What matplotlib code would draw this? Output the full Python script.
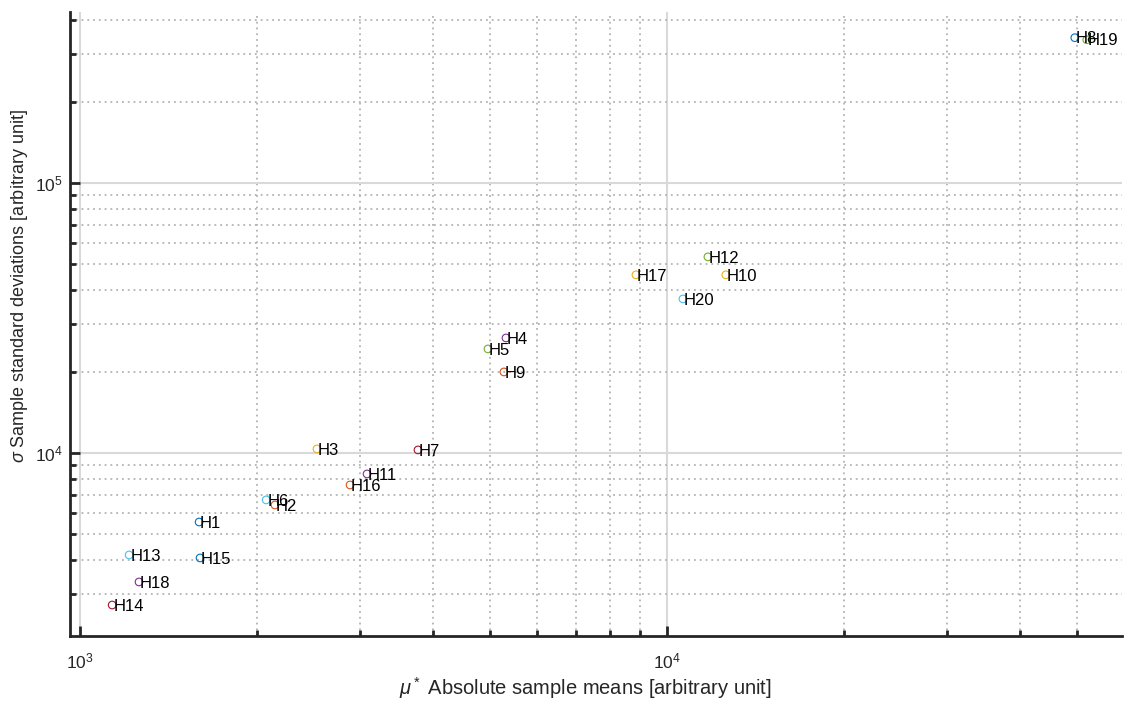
import matplotlib
matplotlib.use("Agg")
import matplotlib.pyplot as plt
from matplotlib.ticker import LogLocator, NullFormatter

plt.rcParams['font.family'] = ['Liberation Sans', 'DejaVu Sans']
plt.rcParams['mathtext.fontset'] = 'custom'
plt.rcParams['mathtext.rm'] = 'Liberation Sans'
plt.rcParams['mathtext.it'] = 'Liberation Sans:italic'

labels = ["H1", "H2", "H3", "H4", "H5", "H6", "H7", "H8", "H9", "H10",
          "H11", "H12", "H13", "H14", "H15", "H16", "H17", "H18", "H19", "H20"]
mu_star = [1595, 2148, 2533, 5318, 4955, 2075, 3765, 49550, 5275, 12600,
           3083, 11745, 1212, 1134, 1601, 2884, 8855, 1260, 51940, 10650]
sigma = [5550, 6416, 10350, 26650, 24270, 6700, 10260, 344600, 19950, 45650,
         8360, 53200, 4190, 2735, 4085, 7610, 45650, 3329, 338600, 37170]

matlab_colors = ["#0072BD", "#D95319", "#EDB120", "#7E2F8E",
                 "#77AC30", "#4DBEEE", "#A2142F"]

fig = plt.figure(figsize=(11.25, 7.03), dpi=100)
ax = fig.add_axes([0.0622, 0.0953, 0.935, 0.888])

for i, (x, y, name) in enumerate(zip(mu_star, sigma, labels)):
    ax.scatter(x, y, s=30, facecolors="none",
               edgecolors=matlab_colors[i % 7], linewidths=0.8, zorder=3)
    ax.text(x * 1.004, y * 0.99, name, ha="left", va="center", fontsize=12,
            color="black", zorder=4)

ax.set_xscale("log")
ax.set_yscale("log")
ax.set_xlim(961, 59600)
ax.set_ylim(2100, 430000)

ax.xaxis.set_major_locator(LogLocator(base=10))
ax.yaxis.set_major_locator(LogLocator(base=10))
ax.xaxis.set_minor_locator(LogLocator(base=10, subs=range(2, 10)))
ax.yaxis.set_minor_locator(LogLocator(base=10, subs=range(2, 10)))
ax.xaxis.set_minor_formatter(NullFormatter())
ax.yaxis.set_minor_formatter(NullFormatter())

ax.grid(which="major", color="#d9d9d9", linestyle="-", linewidth=1.5)
ax.grid(which="minor", color="#b3b3b3", linestyle=(0, (1, 2.2)), linewidth=1.3)
ax.set_axisbelow(True)

for side in ["top", "right"]:
    ax.spines[side].set_visible(False)
for side in ["left", "bottom"]:
    ax.spines[side].set_color("#262626")
    ax.spines[side].set_linewidth(2)

ax.tick_params(which="major", direction="in", length=7, width=2,
               colors="#262626", labelsize=12.5, pad=11)
ax.tick_params(which="minor", direction="in", length=4, width=2,
               colors="#262626")
ax.tick_params(axis="y", which="major", pad=5)
for lab in ax.get_xticklabels() + ax.get_yticklabels():
    lab.set_color("#262626")

ax.set_xlabel(r"$\mu^*$ Absolute sample means [arbitrary unit]",
              fontsize=14.5, color="#262626", labelpad=3)
ax.set_ylabel(r"$\sigma$ Sample standard deviations [arbitrary unit]",
              fontsize=13, color="#262626", labelpad=4)
ax.xaxis.label.set_x(0.49)
ax.yaxis.label.set_y(0.56)

fig.savefig("out.png", dpi=100, facecolor="white")
